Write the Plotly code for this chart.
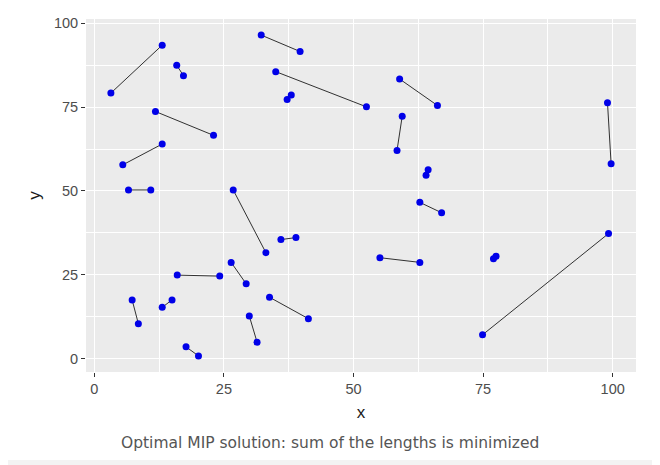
import plotly.graph_objects as go

# pair endpoints (matched points)
x1 = [3.2, 15.9, 11.8, 5.5, 6.6, 32.2, 35.0, 37.2, 26.8, 58.9, 59.4, 64.4, 99.0,
      36.0, 16.0, 26.4, 7.3, 13.1, 33.8, 29.9, 17.7, 62.8, 55.1, 77.0, 74.9]
y1 = [79.2, 87.5, 73.7, 57.8, 50.3, 96.5, 85.6, 77.3, 50.3, 83.4, 72.3, 56.3, 76.3,
      35.5, 24.9, 28.7, 17.5, 15.3, 18.3, 12.7, 3.5, 46.6, 30.1, 29.8, 7.1]
x2 = [13.1, 17.2, 23.0, 13.1, 10.9, 39.7, 52.5, 38.0, 33.1, 66.2, 58.4, 64.0, 99.7,
      38.9, 24.2, 29.3, 8.5, 15.0, 41.3, 31.4, 20.1, 67.0, 62.8, 77.5, 99.2]
y2 = [93.5, 84.4, 66.6, 64.0, 50.3, 91.6, 75.1, 78.6, 31.6, 75.5, 62.1, 54.7, 58.1,
      36.1, 24.6, 22.3, 10.4, 17.5, 11.9, 4.9, 0.8, 43.5, 28.7, 30.5, 37.3]

x_ticks = [0, 25, 50, 75, 100]
y_ticks = [0, 25, 50, 75, 100]
caption = "Optimal MIP solution: sum of the lengths is minimized"

seg_x, seg_y = [], []
for a, b, c, d in zip(x1, y1, x2, y2):
    seg_x += [a, c, None]
    seg_y += [b, d, None]

fig = go.Figure()
fig.add_trace(go.Scatter(x=seg_x, y=seg_y, mode="lines",
                         line=dict(color="black", width=0.8),
                         hoverinfo="skip", showlegend=False))
fig.add_trace(go.Scatter(x=x1 + x2, y=y1 + y2, mode="markers",
                         marker=dict(color="#0000e8", size=7),
                         showlegend=False))

# page body has an 8px default margin; figure is sized to fit the window
OFF = 8
W, H = 660 - OFF, 465 - OFF
L, T = 86 - OFF, 19 - OFF
R = W - (636 - OFF)
B = H - (372 - OFF)
pw, ph = W - L - R, H - T - B

def px(xp):  # window pixel -> paper x
    return (xp - OFF - L) / pw

def py(yp):  # window pixel -> paper y
    return (H - B - (yp - OFF)) / ph

tick_font = dict(family="Liberation Sans", size=14.5, color="#4d4d4d")
title_font = dict(family="Liberation Sans", size=17, color="#1a1a1a")

axis_common = dict(
    showgrid=True, gridcolor="white", gridwidth=1.1,
    zeroline=False, showline=False, automargin=False,
    ticks="outside", ticklen=4, tickcolor="#333333", tickwidth=1,
    tickfont=tick_font,
)

fig.update_xaxes(range=[-1.6, 104.5], tickvals=x_ticks,
                 title=dict(text="x", font=title_font, standoff=9),
                 minor=dict(showgrid=True, gridcolor="white", gridwidth=0.5,
                            tickvals=[12.5, 37.5, 62.5, 87.5]),
                 **axis_common)
fig.update_yaxes(range=[-4.0, 101.3], tickvals=y_ticks,
                 title=dict(text="y", font=title_font, standoff=8),
                 minor=dict(showgrid=True, gridcolor="white", gridwidth=0.5,
                            tickvals=[12.5, 37.5, 62.5, 87.5]),
                 **axis_common)

edge = "#f3f3f3"
border_shapes = [
    dict(x0=px(652), x1=px(680), y0=py(480), y1=py(0)),
    dict(x0=px(0), x1=px(680), y0=py(480), y1=py(460)),
]
shapes = []
for s in border_shapes:
    s.update(type="rect", xref="paper", yref="paper", fillcolor=edge,
             line=dict(width=0), layer="above")
    shapes.append(s)

fig.update_layout(
    width=W, height=H,
    margin=dict(l=L, r=R, t=T, b=B, autoexpand=False),
    plot_bgcolor="#ebebeb",
    paper_bgcolor="white",
    shapes=shapes,
    annotations=[dict(text=caption, xref="paper", yref="paper",
                      x=px(330), y=py(443), xanchor="center", yanchor="middle",
                      showarrow=False,
                      font=dict(family="DejaVu Sans", size=15.5, color="#555555"))],
)

fig.write_html("out.html")
